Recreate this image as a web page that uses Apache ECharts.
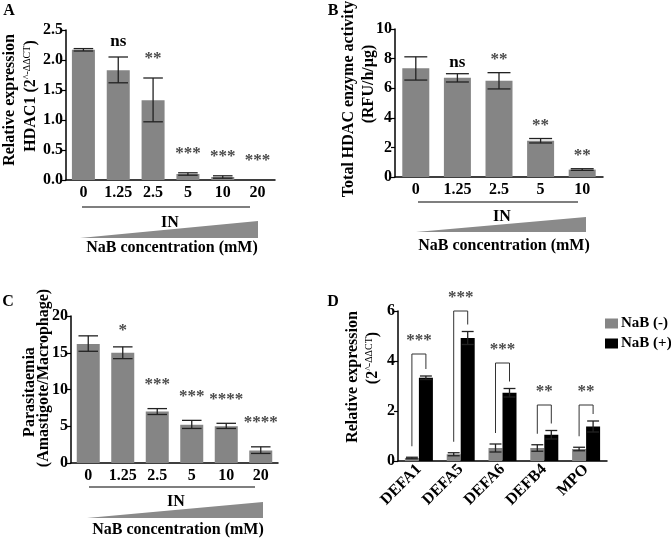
<!DOCTYPE html>
<html><head><meta charset="utf-8">
<script src="https://cdn.jsdelivr.net/npm/echarts@6/dist/echarts.min.js"></script>
<style>html,body{margin:0;padding:0;background:#fff}#c{width:671px;height:538px}</style>
</head><body><div id="c"></div>
<script>
// ---- Data ----
const catsA = ['0','1.25','2.5','5','10','20'];
const valsA = [2.17, 1.83, 1.33, 0.10, 0.05, 0.0];
const loA   = [2.15, 1.62, 0.97, 0.08, 0.03, 0.0];
const hiA   = [2.19, 2.05, 1.70, 0.12, 0.07, 0.0];
const sigA  = ['', 'ns', '**', '***', '***', '***'];

const catsB = ['0','1.25','2.5','5','10'];
const valsB = [7.35, 6.70, 6.50, 2.45, 0.50];
const loB   = [6.55, 6.42, 5.95, 2.30, 0.45];
const hiB   = [8.12, 6.98, 7.05, 2.60, 0.56];
const sigB  = ['', 'ns', '**', '**', '**'];

const catsC = ['0','1.25','2.5','5','10','20'];
const valsC = [16.2, 15.0, 7.0, 5.2, 5.0, 1.7];
const loC   = [15.2, 14.2, 6.6, 4.7, 4.7, 1.3];
const hiC   = [17.3, 15.8, 7.4, 5.8, 5.4, 2.2];
const sigC  = ['', '*', '***', '***', '****', '****'];

const catsD = ['DEFA1','DEFA5','DEFA6','DEFB4','MPO'];
const negD  = [0.12, 0.27, 0.52, 0.52, 0.48];
const negHiD= [0.15, 0.33, 0.68, 0.65, 0.55];
const negLoD= [0.09, 0.21, 0.36, 0.39, 0.41];
const posD  = [3.33, 4.92, 2.73, 1.05, 1.38];
const posHiD= [3.40, 5.18, 2.90, 1.22, 1.60];
const posLoD= [3.26, 4.66, 2.56, 0.88, 1.16];
const bracketD = [4.28, 6.0, 3.92, 2.24, 2.24];
const sigD  = ['***', '***', '***', '**', '**'];

const yTicksA = [0, 2.5, 0.5];
const yTicksB = [0, 10, 2];
const yTicksC = [0, 20, 5];
const yTicksD = [0, 6, 2];

// ---- Styles ----
const FONT = '"Liberation Serif", "Times New Roman", serif';
const GRAY = '#858585';
const STAR = '#4a4a4a';

const grids = [
  {left: 66, top: 30, width: 209, height: 150},
  {left: 395, top: 29, width: 208, height: 148},
  {left: 71, top: 316, width: 207, height: 147},
  {left: 398, top: 311, width: 209, height: 150}
];

function xAxisCfg(i, cats, rotate) {
  return {
    type: 'category', gridIndex: i, data: cats,
    axisLine: {lineStyle: {color: '#000', width: 1.5}},
    axisTick: {alignWithLabel: true, length: 4, lineStyle: {color: '#000', width: 1.2}},
    axisLabel: {color: '#000', fontFamily: FONT, fontWeight: 'bold', fontSize: rotate ? 16 : 16, margin: rotate ? 6 : 5, rotate: rotate || 0, interval: 0}
  };
}
function yAxisCfg(i, t, fmt) {
  return {
    type: 'value', gridIndex: i, min: t[0], max: t[1], interval: t[2],
    axisLine: {show: true, lineStyle: {color: '#000', width: 1.5}},
    axisTick: {show: true, length: 4, lineStyle: {color: '#000', width: 1.2}},
    splitLine: {show: false},
    axisLabel: {color: '#000', fontFamily: FONT, fontWeight: 'bold', fontSize: 16, margin: 3,
      formatter: fmt || null}
  };
}

function errSeries(gi, lo, hi, sig, offset, barW, sigOff, nsOff) {
  return {
    type: 'custom', xAxisIndex: gi, yAxisIndex: gi, z: 5, clip: false,
    data: lo.map((l, i) => [i, l, hi[i]]),
    encode: {x: 0, y: [1, 2]},
    renderItem: function (params, api) {
      const i = api.value(0);
      const pt = api.coord([i, api.value(2)]);
      const pb = api.coord([i, api.value(1)]);
      const x = pt[0] + offset;
      const cw = barW * 0.85 / 2;
      const st = {stroke: '#222', lineWidth: 1.3};
      const ch = [];
      if (pb[1] - pt[1] > 0.5) {
        ch.push({type: 'line', shape: {x1: x, y1: pt[1], x2: x, y2: pb[1]}, style: st});
        ch.push({type: 'line', shape: {x1: x - cw, y1: pt[1], x2: x + cw, y2: pt[1]}, style: st});
        ch.push({type: 'line', shape: {x1: x - cw, y1: pb[1], x2: x + cw, y2: pb[1]}, style: st});
      }
      const s = sig ? sig[params.dataIndex] : '';
      if (s) {
        const isNs = s === 'ns';
        const off = isNs ? nsOff : (s === '*' ? sigOff - 8 : sigOff);
        ch.push({type: 'text', style: {
          text: s, x: x, y: pt[1] - off, align: 'center', verticalAlign: 'middle',
          font: 'bold 17px ' + FONT,
          fill: isNs ? '#000' : STAR
        }});
      }
      return {type: 'group', children: ch};
    }
  };
}

function barSeries(gi, vals, name, color, barW) {
  return {type: 'bar', name: name, xAxisIndex: gi, yAxisIndex: gi, data: vals, barWidth: barW,
    barGap: '0%', itemStyle: {color: color}, z: 2};
}

const bracketSeries = {
  type: 'custom', xAxisIndex: 3, yAxisIndex: 3, z: 6, clip: false,
  data: catsD.map((c, i) => [i, negHiD[i], posHiD[i], bracketD[i]]),
  encode: {x: 0, y: 3},
  renderItem: function (params, api) {
    const i = api.value(0);
    const xs = api.coord([i, 0])[0];
    const xg = xs - 7, xb = xs + 7;
    const yTop = api.coord([i, api.value(3)])[1];
    const yg = api.coord([i, api.value(1)])[1] - 11;
    const yb = api.coord([i, api.value(2)])[1] - 7;
    const st = {stroke: '#333', lineWidth: 1, fill: null};
    return {type: 'group', children: [
      {type: 'polyline', shape: {points: [[xg, yg], [xg, yTop], [xb, yTop], [xb, yb]]}, style: st},
      {type: 'text', style: {text: sigD[params.dataIndex], x: xs, y: yTop - 13, align: 'center', verticalAlign: 'middle',
        font: 'bold 17px ' + FONT, fill: STAR}}
    ]};
  }
};

// ---- decorations ----
function txt(x, y, text, size) {
  return {type: 'text', x: x, y: y, style: {text: text, font: 'bold ' + size + 'px ' + FONT,
    fill: '#000', align: 'center', verticalAlign: 'middle'}};
}
function vtxt(x, y, text, size) {
  return {type: 'text', x: x, y: y, rotation: Math.PI / 2, style: {text: text, font: 'bold ' + size + 'px ' + FONT,
    fill: '#000', align: 'center', verticalAlign: 'middle'}};
}
const supRich = {
  m: {fontFamily: FONT, fontWeight: 'bold', fontSize: 16, color: '#000'},
  s: {fontFamily: FONT, fontWeight: 'normal', fontSize: 10, color: '#000', verticalAlign: 'top', padding: [0, 0, 7, 0]}
};
function richV(x, y, parts) {
  return {type: 'text', x: x, y: y, rotation: Math.PI / 2, style: {text: parts, rich: supRich,
    align: 'center', verticalAlign: 'middle', fill: '#000', font: 'bold 16px ' + FONT}};
}
function concBlock(x1, x2, yLine, yIN, triTop, triBot, yNaB) {
  const cx = (x1 + x2) / 2;
  return [
    {type: 'line', shape: {x1: x1, y1: yLine, x2: x2 - 8, y2: yLine}, style: {stroke: '#000', lineWidth: 1.2}},
    txt(cx, yIN, 'IN', 16),
    {type: 'polygon', shape: {points: [[x1 - 2, triBot], [x2, triTop], [x2, triBot]]}, style: {fill: '#8a8a8a'}},
    txt(cx + 2, yNaB, 'NaB concentration (mM)', 16)
  ];
}

const graphic = [].concat(
  [txt(9, 11, 'A', 16), txt(333, 11, 'B', 16), txt(8, 302, 'C', 16), txt(333, 302, 'D', 16)],
  concBlock(82, 258, 207, 223, 221, 238, 248),
  concBlock(418, 586, 202, 217, 217, 232, 246),
  concBlock(89, 263, 487, 502, 502, 518, 530),
  [
    vtxt(10, 100, 'Relative expression', 16),
    richV(31, 96, '{m|HDAC1 (2}{s|^-ΔΔCT}{m|)}'),
    vtxt(349, 99, 'Total HDAC enzyme activity', 16),
    vtxt(369, 84, '(RFU/h/µg)', 16),
    vtxt(30, 392, 'Parasitaemia', 16),
    vtxt(44, 378, '(Amastigote/Macrophage)', 16),
    vtxt(353, 377, 'Relative expression', 16),
    richV(373, 358, '{m|(2}{s|^-ΔΔCT}{m|)}')
  ]
);

const chart = echarts.init(document.getElementById('c'), null, {renderer: 'canvas'});
chart.setOption({
  animation: false,
  backgroundColor: '#fff',
  grid: grids,
  xAxis: [xAxisCfg(0, catsA), xAxisCfg(1, catsB), xAxisCfg(2, catsC), xAxisCfg(3, catsD, 45)],
  yAxis: [yAxisCfg(0, yTicksA, v => v.toFixed(1)), yAxisCfg(1, yTicksB), yAxisCfg(2, yTicksC), yAxisCfg(3, yTicksD)],
  legend: {
    data: ['NaB (-)', 'NaB (+)'], orient: 'vertical', left: 605, top: 316, padding: 0,
    itemWidth: 13, itemHeight: 10, itemGap: 5,
    icon: 'rect', textStyle: {fontFamily: FONT, fontWeight: 'bold', fontSize: 15, color: '#000', padding: [0, 0, 0, -2]}
  },
  series: [
    barSeries(0, valsA, 'A', GRAY, 23),
    errSeries(0, loA, hiA, sigA, 0, 23, 19, 15),
    barSeries(1, valsB, 'B', GRAY, 27),
    errSeries(1, loB, hiB, sigB, 0, 27, 13, 11),
    barSeries(2, valsC, 'C', GRAY, 23),
    errSeries(2, loC, hiC, sigC, 0, 23, 24, 15),
    barSeries(3, negD, 'NaB (-)', GRAY, 14),
    barSeries(3, posD, 'NaB (+)', '#000', 14),
    errSeries(3, negLoD, negHiD, null, -7, 14, 0, 0),
    errSeries(3, posLoD, posHiD, null, 7, 14, 0, 0),
    bracketSeries
  ],
  graphic: graphic
});
</script></body></html>
